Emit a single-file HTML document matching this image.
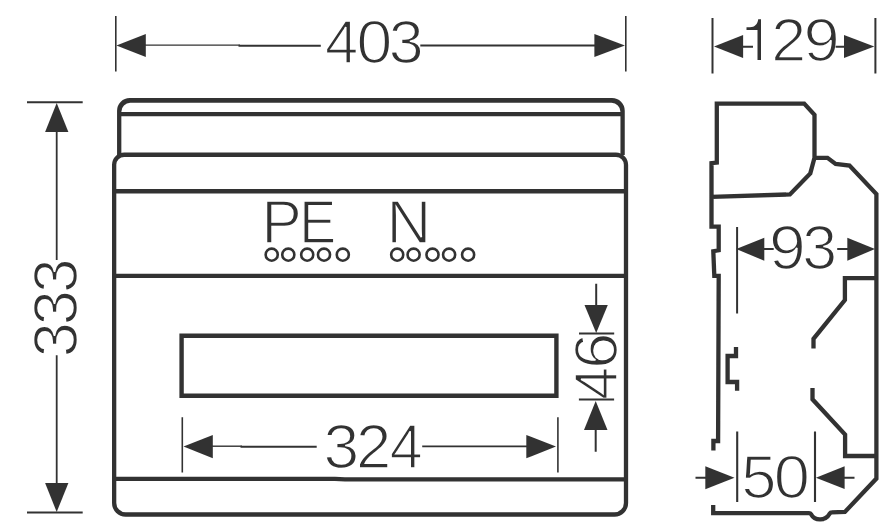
<!DOCTYPE html>
<html><head><meta charset="utf-8">
<style>
html,body{margin:0;padding:0;background:#fff;}
body{width:883px;height:524px;overflow:hidden;}
svg{display:block;}
text{font-family:"Liberation Sans",sans-serif;}
</style></head><body>
<svg width="883" height="524" viewBox="0 0 883 524">
<defs><filter id="soft" x="0" y="0" width="883" height="524" filterUnits="userSpaceOnUse"><feGaussianBlur stdDeviation="0.35"/></filter></defs>
<rect width="883" height="524" fill="#fff"/>
<g filter="url(#soft)">
<!-- TEXT (thinned with white outline) -->
<g fill="#333" stroke="#fff" stroke-width="1.55" font-size="61">
<text transform="translate(324.90,62.75) scale(0.9793,1.0000)">4</text>
<text transform="translate(356.47,62.75) scale(1.0545,1.0000)">0</text>
<text transform="translate(388.86,62.75) scale(1.0275,1.0000)">3</text>
<text transform="translate(771.24,61.05) scale(1.0286,1.0050)">2</text>
<text transform="translate(803.50,61.05) scale(1.0679,1.0050)">9</text>
<text transform="translate(768.94,268.55) scale(1.0830,1.0210)">9</text>
<text transform="translate(802.36,268.55) scale(1.0275,1.0210)">3</text>
<text transform="translate(741.27,497.55) scale(1.0370,1.0140)">5</text>
<text transform="translate(773.84,497.55) scale(1.0655,1.0140)">0</text>
<text transform="translate(323.38,467.85) scale(1.0532,1.0200)">3</text>
<text transform="translate(356.00,467.85) scale(1.0400,1.0200)">2</text>
<text transform="translate(389.72,467.85) scale(0.9690,1.0200)">4</text>
<text transform="translate(261.51,243.15) scale(0.9903,1.0060)">P</text>
<text transform="translate(299.18,243.15) scale(0.9079,1.0060)">E</text>
<text transform="translate(386.56,243.15) scale(1.0154,1.0060)">N</text>
<text transform="translate(76.85,357.15) rotate(-90) scale(1.0312,1.0190)">3</text>
<text transform="translate(76.85,325.35) rotate(-90) scale(1.0312,1.0190)">3</text>
<text transform="translate(76.85,292.77) rotate(-90) scale(1.0055,1.0190)">3</text>
<text transform="translate(616.60,399.77) rotate(-90) scale(0.9655,1.0160)">4</text>
<text transform="translate(616.60,368.99) rotate(-90) scale(1.0717,1.0160)">6</text>
</g>
<!-- hand drawn "1" -->
<path fill="#333" d="M761 19.2 V59.9 H757.5 V29.9 H746.5 V27.2 H750 C754.6 27.2 757.7 24 758.2 19.2 Z"/>
<!-- FRONT VIEW -->
<g fill="none" stroke="#333" stroke-width="4.3" stroke-linejoin="round">
<path stroke="none" fill="#333" d="M117.05 155 V110.65 A12.7 12.7 0 0 1 129.75 97.95 H612.05 A12.7 12.7 0 0 1 624.75 110.65 V155 H620.45 V111.75 A8.9 8.9 0 0 0 611.55 102.85 H130.25 A8.9 8.9 0 0 0 121.35 111.75 V155 Z"/>
<path d="M119.2 114.1 H622.6"/>
<path d="M114.15 164.75 a10 10 0 0 1 10 -10 H616 a10 10 0 0 1 10 10 V503 a11.5 11.5 0 0 1 -11.5 11.5 H125.65 a11.5 11.5 0 0 1 -11.5 -11.5 Z"/>
<path d="M114.15 191.3 H626" stroke-width="4.4"/>
<path d="M114.15 275.9 H626" stroke-width="4.4"/>
<path d="M114.15 478.8 L335 478.9 L345 479.3 L626 479.4" stroke-width="4.3"/>
<path d="M181.6 335.8 H556.4 V395.7 H181.6 Z" stroke-linejoin="miter" stroke-width="4.4"/>
</g>
<!-- terminal circles -->
<g fill="none" stroke="#333" stroke-width="2.6">
<circle cx="271.7" cy="254.65" r="6.05"/><circle cx="288.3" cy="254.65" r="6.05"/><circle cx="307.2" cy="254.65" r="6.05"/><circle cx="324" cy="254.65" r="6.05"/><circle cx="342.8" cy="254.65" r="6.05"/>
<circle cx="397.2" cy="254.65" r="6.05"/><circle cx="413.6" cy="254.65" r="6.05"/><circle cx="432.5" cy="254.65" r="6.05"/><circle cx="449.1" cy="254.65" r="6.05"/><circle cx="468.1" cy="254.65" r="6.05"/>
</g>
<!-- SIDE VIEW -->
<g fill="none" stroke="#333" stroke-width="4.3" stroke-linejoin="miter" stroke-linecap="butt">
<path d="M711.5 196.9 L789.9 194.4 L810.3 173.4 L814.5 157.8 V114.8 L804.2 103.55 H716.8 V162.6 L711.5 163.2 V226.6 H718.7 V250.3 L713.3 251.2 L714.3 275.8 H718.7 L718.1 441 H713.4 V450.4"/>
<path d="M814.5 157.8 H827.5 L835.6 163.9 L849.5 165.6 L876.4 194 V478.6 L844.9 512.0 L831.6 512.4 C830.6 512.4 830.2 512.9 829.6 513.8 C825.5 521.2 814.8 521.4 810.9 514 C810.5 513.3 810 513.2 809 513.2 H713.2 V505"/>
<path d="M876.4 278.2 H844.9 V300 L813.5 338.8 V348.6"/>
<path d="M812.5 388 V399.3 L845.1 434.5 V456 H876.4"/>
<path d="M736 347 V356 H727.6 V382 H737.1 V390.8"/>
</g>
<!-- DIMENSION LINES -->
<g fill="none" stroke="#333" stroke-width="1.6">
<!-- extension lines -->
<path d="M115.8 16 V71.5 M625.8 16 V71.5"/>
<path d="M712.5 18 V73.5 M875.4 18 V73.5" stroke-width="2"/>
<path d="M27 102.15 H82.7 M27 512.6 H82.7" stroke-width="2"/>
<path d="M182.3 417.2 V472.5 M557.9 417.2 V472.5"/>
<path d="M579 333.5 H614.2 M578.9 399.5 H614.1" stroke-width="2"/>
<path d="M737.1 227 V313.5" stroke-width="2"/>
<path d="M737.2 431.5 V502 M815 431.5 V502" stroke-width="2.1"/>
</g>
<g fill="none" stroke="#333" stroke-width="1.8">
<!-- dimension lines -->
<path d="M145 45.1 H240" stroke-width="1.4"/><path d="M238.5 45.7 H320.8" stroke-width="2"/><path d="M420.3 45.5 H595"/>
<path d="M742 46.7 H753 M835.6 46.7 H845" stroke-width="2"/>
<path d="M56.7 131 V259.9 M56.7 355.3 V484"/>
<path d="M212 446.2 H242" stroke-width="1.4"/><path d="M240.5 446.8 H316.7" stroke-width="2"/><path d="M422.2 446.4 H527"/>
<path d="M596.2 283.8 V306 M595.7 429 V451.8" stroke-width="2"/>
<path d="M763 249.1 H773.7 M837.2 249.1 H848" stroke-width="2"/>
<path d="M695.5 477.7 H706 M843.5 477.7 H854.5" stroke-width="2"/>
</g>
<!-- ARROWHEADS -->
<g fill="#333" stroke="none">
<path d="M116.4 45.5 L145.8 33.9 V57.1 Z"/><path d="M624.9 45.5 L594.4 33.9 V57.1 Z"/>
<path d="M714 46.4 L743.1 34.9 V58 Z"/><path d="M874.3 46.4 L844 34.9 V58 Z"/>
<path d="M56.7 103 L45.1 132.1 H68.4 Z"/><path d="M56.7 511.9 L45.1 482.9 H68.4 Z"/>
<path d="M183.5 446.5 L212.8 434.9 V458.3 Z"/><path d="M556 446.5 L526.3 434.9 V458.3 Z"/>
<path d="M596.2 333 L584.5 305.1 H607.8 Z"/><path d="M595.7 401.1 L584 429.9 H607.5 Z"/>
<path d="M736.2 249.1 L764.3 237.8 V260.8 Z"/><path d="M875 249.1 L847.3 237.8 V260.8 Z"/>
<path d="M734.5 477.7 L705.3 466.3 V489.3 Z"/><path d="M815.9 477.7 L844.6 466.3 V489.1 Z"/>
</g>
</g>
</svg>
</body></html>
